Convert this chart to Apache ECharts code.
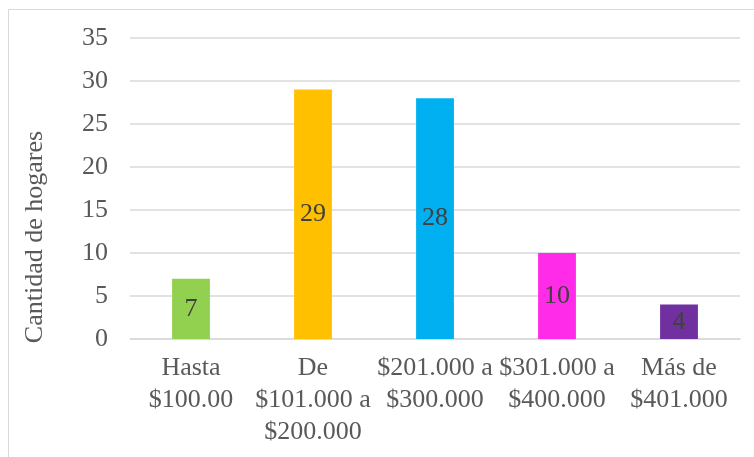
<!DOCTYPE html>
<html><head><meta charset="utf-8">
<script src="https://cdn.jsdelivr.net/npm/echarts@6/dist/echarts.min.js"></script>
<style>html,body{margin:0;padding:0;background:#fff}#c{width:754px;height:457px}</style>
</head><body><div id="c"></div>
<script>
const categories = ['Hasta\n$100.00', 'De\n$101.000 a\n$200.000', '$201.000 a\n$300.000', '$301.000 a\n$400.000', 'Más de\n$401.000'];
const values = [7, 29, 28, 10, 4];
const barColors = ['#92D050', '#FFC000', '#00B0F0', '#FF2BE8', '#7030A0'];
const yTicks = [0, 5, 10, 15, 20, 25, 30, 35];
const yTitle = 'Cantidad de hogares';
const font = '"Liberation Serif", "Times New Roman", serif';

const chart = echarts.init(document.getElementById('c'));
chart.setOption({
  animation: false,
  backgroundColor: '#fff',
  graphic: [
    {type: 'rect', shape: {x: 8.5, y: 9.5, width: 800, height: 500}, style: {fill: 'none', stroke: '#d9d9d9', lineWidth: 1}, silent: true},
    {type: 'text', x: 35, y: 237, rotation: Math.PI / 2,
     style: {text: yTitle, font: '26px ' + font, fill: '#595959', align: 'center', verticalAlign: 'middle'}}
  ],
  grid: {left: 130, right: 14, top: 38, bottom: 118, containLabel: false},
  xAxis: {
    type: 'category', data: categories,
    axisLine: {lineStyle: {color: '#d9d9d9', width: 1.5}},
    axisTick: {show: false},
    axisLabel: {interval: 0, color: '#595959', fontFamily: font, fontSize: 26, lineHeight: 32, margin: 13}
  },
  yAxis: {
    type: 'value', min: yTicks[0], max: yTicks[yTicks.length - 1], interval: 5,
    axisLine: {show: false}, axisTick: {show: false},
    splitLine: {lineStyle: {color: '#d9d9d9', width: 1.5}},
    axisLabel: {color: '#595959', fontFamily: font, fontSize: 26, margin: 22}
  },
  series: [{
    type: 'bar', barWidth: '31%',
    data: values.map((v, i) => ({value: v, itemStyle: {color: barColors[i]}})),
    label: {show: true, position: 'inside', color: '#404040', fontFamily: font, fontSize: 26}
  }]
});
</script></body></html>
